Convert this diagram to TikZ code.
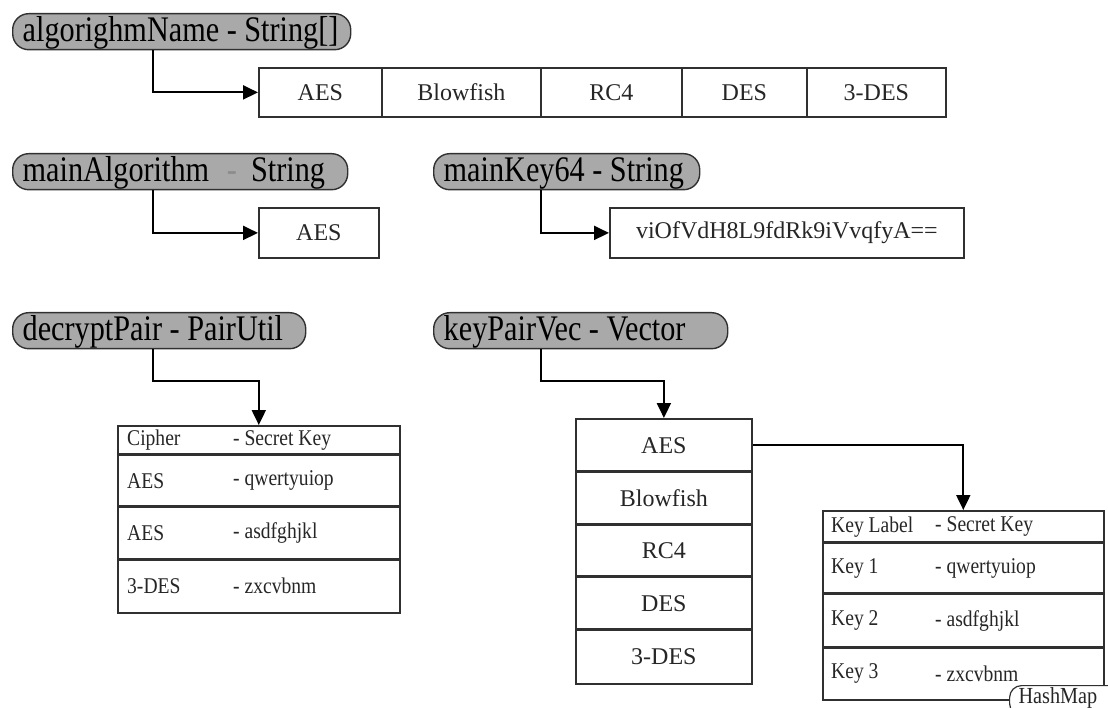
\documentclass[tikz,border=0pt]{standalone}
\usepackage{fontspec}
\usepackage{graphicx}
\setmainfont{Liberation Serif}
\usetikzlibrary{arrows.meta,calc}
\definecolor{pillfill}{HTML}{A9A9A9}
\definecolor{inkline}{HTML}{303030}
\definecolor{inktext}{HTML}{262626}
\definecolor{dashgray}{HTML}{8C8C8C}
% narrow setting used by the labels and table entries
\newcommand\pilltext[2]{\makebox[#1][l]{\scalebox{0.84}[1]{#2}}}
\newcommand\tabtext[1]{\scalebox{0.87}[1]{#1}}

\begin{document}
\begin{tikzpicture}[x=1pt,y=-1pt,
  pill/.style={draw=inkline, fill=pillfill, line width=1.4pt, rounded corners=16pt,
    inner xsep=10pt, inner ysep=0pt, text height=28pt, text depth=8pt, text=black,
    font=\fontsize{36}{36}\selectfont, anchor=north west},
  cell/.style={draw=inkline, line width=1.8pt, fill=white, inner sep=0pt,
    anchor=north west, text=inktext, font=\fontsize{24}{26}\selectfont},
  rowbox/.style={draw=inkline, line width=1.6pt, fill=white, inner sep=0pt, anchor=north west},
  divider/.style={draw=inkline, line width=2.6pt},
  entry/.style={anchor=west, inner sep=0pt, text=inktext, font=\fontsize{22.5}{24}\selectfont},
  conn/.style={draw=black, line width=2pt, -{Triangle[length=15pt,width=14pt]}},
]
\useasboundingbox (0,0) rectangle (1108,708);
\clip (0,0) rectangle (1108,708);

% --- algorithm name array ---
\node[pill] (p1) at (12,13) {\pilltext{318pt}{algorighmName - String[]}};
\node[cell, minimum width=123, minimum height=49] (a1) at (258,67) {AES};
\node[cell, minimum width=159, minimum height=49] (a2) at (381,67) {Blowfish};
\node[cell, minimum width=141, minimum height=49] (a3) at (540,67) {RC4};
\node[cell, minimum width=125, minimum height=49] (a4) at (681,67) {DES};
\node[cell, minimum width=139, minimum height=49] (a5) at (806,67) {3-DES};
\draw[conn] ([xshift=141pt]p1.south west) |- (a1.west);

% --- main algorithm ---
\node[pill] (p2) at (12,153)
  {\pilltext{315pt}{mainAlgorithm\hspace{21pt}{\color{dashgray}-}\hspace{17pt}String}};
\node[cell, minimum width=120, minimum height=50] (b1) at (258,207) {AES};
\draw[conn] ([xshift=141pt]p2.south west) |- (b1.west);

% --- main key ---
\node[pill] (p3) at (433,153) {\pilltext{246pt}{mainKey64 - String}};
\node[cell, minimum width=354, minimum height=50] (b2) at (609,207) {viOfVdH8L9fdRk9iVvqfyA==};
\draw[conn] ([xshift=108pt]p3.south west) |- (b2.west);

% --- decrypt pair table ---
\node[pill] (p4) at (12,312) {\pilltext{273pt}{decryptPair - PairUtil}};
\node[rowbox, minimum width=282, minimum height=29] (d0) at (117,425) {};
\node[rowbox, minimum width=282, minimum height=52] (d1) at (117,454) {};
\node[rowbox, minimum width=282, minimum height=53] (d2) at (117,506) {};
\node[rowbox, minimum width=282, minimum height=53] (d3) at (117,559) {};
\foreach \r in {d1,d2,d3} \draw[divider] (\r.north west) -- (\r.north east);
\node[entry] (d0a) at ($(d0.west)+(10,0)$) {\tabtext{Cipher}};
\node[entry] (d0b) at ($(d0.west)+(116,0)$) {\tabtext{- Secret Key}};
\node[entry] (d1a) at ($(d1.west)+(10,0)$) {\tabtext{AES}};
\node[entry] (d1b) at ($(d1.west)+(116,0)$) {\tabtext{- qwertyuiop}};
\node[entry] (d2a) at ($(d2.west)+(10,0)$) {\tabtext{AES}};
\node[entry] (d2b) at ($(d2.west)+(116,0)$) {\tabtext{- asdfghjkl}};
\node[entry] (d3a) at ($(d3.west)+(10,0)$) {\tabtext{3-DES}};
\node[entry] (d3b) at ($(d3.west)+(116,0)$) {\tabtext{- zxcvbnm}};
\draw[conn] ([xshift=141pt]p4.south west) -- ++(0,32) -| (d0.north);

% --- key pair vector ---
\node[pill] (p5) at (433,312) {\pilltext{274pt}{keyPairVec - Vector}};
\node[cell, minimum width=176, minimum height=53] (v1) at (575,418) {AES};
\node[cell, minimum width=176, minimum height=53] (v2) at (575,471) {Blowfish};
\node[cell, minimum width=176, minimum height=52] (v3) at (575,524) {RC4};
\node[cell, minimum width=176, minimum height=53] (v4) at (575,576) {DES};
\node[cell, minimum width=176, minimum height=54] (v5) at (575,629) {3-DES};
\foreach \r in {v2,v3,v4,v5} \draw[divider] (\r.north west) -- (\r.north east);
\draw[conn] ([xshift=108pt]p5.south west) -- ++(0,32) -| (v1.north);

% --- hash map of keys ---
\node[rowbox, minimum width=281, minimum height=32] (h0) at (822,510) {};
\node[rowbox, minimum width=281, minimum height=51] (h1) at (822,542) {};
\node[rowbox, minimum width=281, minimum height=54] (h2) at (822,593) {};
\node[rowbox, minimum width=281, minimum height=52] (h3) at (822,647) {};
\foreach \r in {h1,h2,h3} \draw[divider] (\r.north west) -- (\r.north east);
\node[entry] (h0a) at ($(h0.west)+(9,0)$) {\tabtext{Key Label}};
\node[entry] (h0b) at ($(h0.west)+(113,0)$) {\tabtext{- Secret Key}};
\node[entry] (h1a) at ($(h1.west)+(9,0)$) {\tabtext{Key 1}};
\node[entry] (h1b) at ($(h1.west)+(113,0)$) {\tabtext{- qwertyuiop}};
\node[entry] (h2a) at ($(h2.west)+(9,0)$) {\tabtext{Key 2}};
\node[entry] (h2b) at ($(h2.west)+(113,0)$) {\tabtext{- asdfghjkl}};
\node[entry] (h3a) at ($(h3.west)+(9,0)$) {\tabtext{Key 3}};
\node[entry] (h3b) at ($(h3.west)+(113,0)$) {\tabtext{- zxcvbnm}};
\draw[conn] (v1.east) -| (h0.north);

\node[draw=inkline, line width=1.2pt, fill=white, rounded corners=12pt, anchor=north west,
  inner xsep=9pt, inner ysep=0pt, text height=18pt, text depth=12pt,
  text=inktext, font=\fontsize{23}{23}\selectfont] (hml) at (1009,685)
  {\makebox[102pt][l]{\scalebox{0.88}[1]{HashMap}}};
\end{tikzpicture}
\end{document}
